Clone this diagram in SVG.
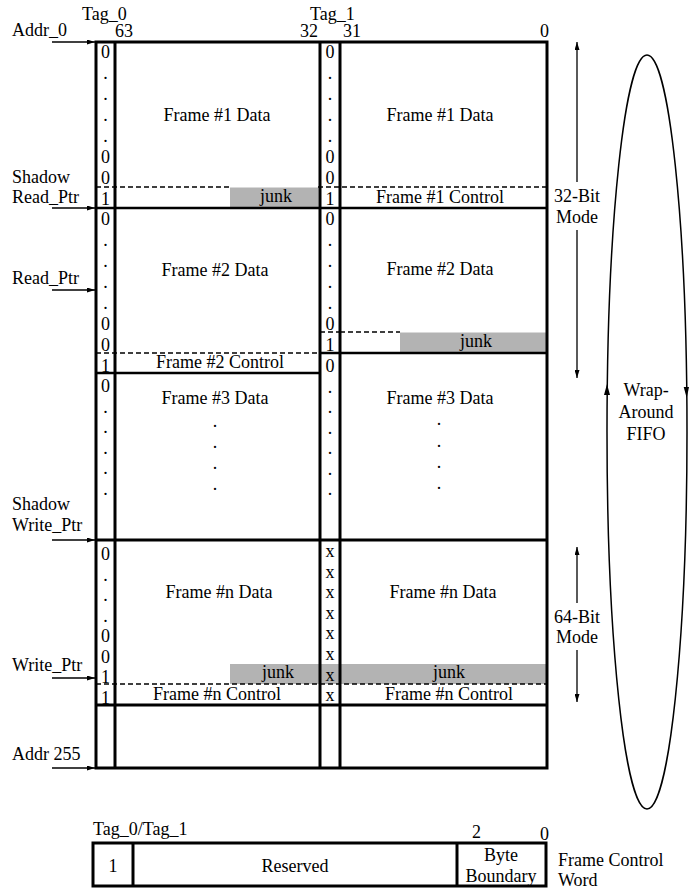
<svg xmlns="http://www.w3.org/2000/svg" width="689" height="892" viewBox="0 0 689 892">
<defs>
<style>
text{font-family:"Liberation Serif","Times New Roman",serif;font-size:18px;fill:#000}
.m{text-anchor:middle}
.thick{stroke:#000;stroke-width:3;fill:none}
.row{stroke:#000;stroke-width:2.5;fill:none}
.dash{stroke:#000;stroke-width:1.3;stroke-dasharray:5 3;fill:none}
.junk{fill:#b3b3b3}
.arr{stroke:#000;stroke-width:1.3;fill:none;marker-end:url(#ah)}
.thin{stroke:#000;stroke-width:1.5;fill:none}
</style>
<marker id="ah" viewBox="0 0 8 5" refX="8" refY="2.5" markerWidth="8" markerHeight="5" orient="auto" markerUnits="userSpaceOnUse"><path d="M0,0 L8,2.5 L0,5 z" fill="#000"/></marker>
</defs>
<rect width="689" height="892" fill="#fff"/>

<g id="headers">
<text x="82" y="20">Tag_0</text>
<text x="12" y="36">Addr_0</text>
<text x="115" y="37">63</text>
<text x="300" y="37">32</text>
<text x="310" y="20">Tag_1</text>
<text x="343" y="37">31</text>
<text x="540" y="37">0</text>
</g>

<g id="junk-areas">
<rect class="junk" x="230" y="187.5" width="88.5" height="20"/>
<rect class="junk" x="400" y="332.5" width="146" height="20"/>
<rect class="junk" x="230" y="664" width="90" height="20"/>
<rect class="junk" x="320" y="664" width="226.5" height="20"/>
</g>

<g id="fifo-table">
<line class="dash" x1="96" y1="187" x2="230" y2="187"/>
<line class="dash" x1="318" y1="187" x2="547" y2="187"/>
<line class="row" x1="96" y1="208" x2="547" y2="208"/>
<line class="dash" x1="340" y1="332" x2="400" y2="332"/>
<line class="dash" x1="320" y1="332" x2="340" y2="332"/>
<line class="dash" x1="96" y1="353" x2="320" y2="353"/>
<line class="row" x1="320" y1="353" x2="547" y2="353"/>
<line class="row" x1="96" y1="373" x2="320" y2="373"/>
<line class="thick" x1="96" y1="540" x2="547" y2="540"/>
<line class="dash" x1="96" y1="684" x2="547" y2="684"/>
<line class="thick" x1="96" y1="705" x2="547" y2="705"/>
<rect class="thick" x="96" y="42" width="451" height="726"/>
<line class="thick" x1="115" y1="42" x2="115" y2="768"/>
<line class="thick" x1="320" y1="42" x2="320" y2="768"/>
<line class="thick" x1="340" y1="42" x2="340" y2="768"/>
</g>

<g id="frame1">
<g class="m">
<text x="105.5" y="58">0</text><text x="105.5" y="79">.</text><text x="105.5" y="100">.</text><text x="105.5" y="121">.</text><text x="105.5" y="142">.</text><text x="105.5" y="163">0</text><text x="105.5" y="184">0</text><text x="105.5" y="205">1</text>
<text x="330" y="58">0</text><text x="330" y="79">.</text><text x="330" y="100">.</text><text x="330" y="121">.</text><text x="330" y="142">.</text><text x="330" y="163">0</text><text x="330" y="184">0</text><text x="330" y="205">1</text>
<text x="217" y="121">Frame #1 Data</text>
<text x="440" y="121">Frame #1 Data</text>
<text x="276" y="202">junk</text>
<text x="440" y="203">Frame #1 Control</text>
</g>
</g>

<g id="frame2">
<g class="m">
<text x="105.5" y="225">0</text><text x="105.5" y="246">.</text><text x="105.5" y="267">.</text><text x="105.5" y="288">.</text><text x="105.5" y="309">.</text><text x="105.5" y="330">0</text><text x="105.5" y="351">0</text><text x="105.5" y="372">1</text>
<text x="330" y="225">0</text><text x="330" y="246">.</text><text x="330" y="267">.</text><text x="330" y="288">.</text><text x="330" y="309">.</text><text x="330" y="330">0</text><text x="330" y="351">1</text>
<text x="215" y="276">Frame #2 Data</text>
<text x="440" y="275">Frame #2 Data</text>
<text x="476" y="347">junk</text>
<text x="220" y="368">Frame #2 Control</text>
</g>
</g>

<g id="frame3">
<g class="m">
<text x="105.5" y="392">0</text><text x="105.5" y="412.5">.</text><text x="105.5" y="433">.</text><text x="105.5" y="453.5">.</text><text x="105.5" y="474">.</text><text x="105.5" y="494.5">.</text>
<text x="330" y="372">0</text><text x="330" y="392.5">.</text><text x="330" y="413">.</text><text x="330" y="433.5">.</text><text x="330" y="454">.</text><text x="330" y="474.5">.</text><text x="330" y="495">.</text>
<text x="215" y="404">Frame #3 Data</text>
<text x="440" y="404">Frame #3 Data</text>
<text x="215" y="426.5">.</text><text x="215" y="447.5">.</text><text x="215" y="468.5">.</text><text x="215" y="489.5">.</text>
<text x="439" y="425">.</text><text x="439" y="446.5">.</text><text x="439" y="468">.</text><text x="439" y="489">.</text>
</g>
</g>

<g id="frame-n">
<g class="m">
<text x="105.5" y="560">0</text><text x="105.5" y="580.5">.</text><text x="105.5" y="601">.</text><text x="105.5" y="621.5">.</text><text x="105.5" y="642">0</text><text x="105.5" y="662.5">0</text><text x="105.5" y="683">1</text><text x="105.5" y="703.5">1</text>
<text x="330" y="557">x</text><text x="330" y="577.6">x</text><text x="330" y="598.2">x</text><text x="330" y="618.8">x</text><text x="330" y="639.4">x</text><text x="330" y="660">x</text><text x="330" y="680.6">x</text><text x="330" y="701.2">x</text>
<text x="219" y="598">Frame #n Data</text>
<text x="443" y="598">Frame #n Data</text>
<text x="278" y="678">junk</text>
<text x="449" y="678">junk</text>
<text x="217" y="700">Frame #n Control</text>
<text x="449" y="700">Frame #n Control</text>
</g>
</g>

<g id="pointer-labels">
<text x="12" y="183">Shadow</text>
<text x="12" y="203">Read_Ptr</text>
<text x="12" y="284">Read_Ptr</text>
<text x="12" y="510">Shadow</text>
<text x="12" y="531">Write_Ptr</text>
<text x="12" y="671">Write_Ptr</text>
<text x="12" y="760">Addr 255</text>
</g>

<g id="mode-labels">
<text class="m" x="577" y="202">32-Bit</text>
<text class="m" x="577" y="223">Mode</text>
<text class="m" x="577" y="623">64-Bit</text>
<text class="m" x="577" y="643">Mode</text>
</g>

<g id="fifo-loop">
<ellipse class="thin" cx="647" cy="432" rx="40" ry="377"/>
<polygon points="607,384 604,395 610,395" fill="#000"/>
<polygon points="686.7,398 683.7,387 689,387" fill="#000"/>
<text class="m" x="646" y="396">Wrap-</text>
<text class="m" x="646" y="418">Around</text>
<text class="m" x="646" y="440">FIFO</text>
</g>

<g id="connectors">
<line class="arr" x1="52" y1="42" x2="95" y2="42"/>
<line class="arr" x1="52" y1="208" x2="95" y2="208"/>
<line class="arr" x1="52" y1="290" x2="95" y2="290"/>
<line class="arr" x1="52" y1="540" x2="95" y2="540"/>
<line class="arr" x1="52" y1="678" x2="95" y2="678"/>
<line class="arr" x1="52" y1="768" x2="95" y2="768"/>
<line class="arr" x1="577" y1="182" x2="577" y2="42"/>
<line class="arr" x1="577" y1="230" x2="577" y2="378"/>
<line class="arr" x1="577" y1="603" x2="577" y2="547"/>
<line class="arr" x1="577" y1="650" x2="577" y2="702"/>
</g>

<g id="control-word">
<text x="93" y="835">Tag_0/Tag_1</text>
<text x="472" y="838">2</text>
<text x="540" y="840">0</text>
<rect class="thick" x="93" y="843" width="453" height="43"/>
<line class="thick" x1="133" y1="843" x2="133" y2="886"/>
<line class="thick" x1="457" y1="843" x2="457" y2="886"/>
<text class="m" x="113" y="872">1</text>
<text class="m" x="295" y="872">Reserved</text>
<text class="m" x="501" y="861">Byte</text>
<text class="m" x="501" y="882">Boundary</text>
<text x="558" y="866">Frame Control</text>
<text x="558" y="886">Word</text>
</g>
</svg>
